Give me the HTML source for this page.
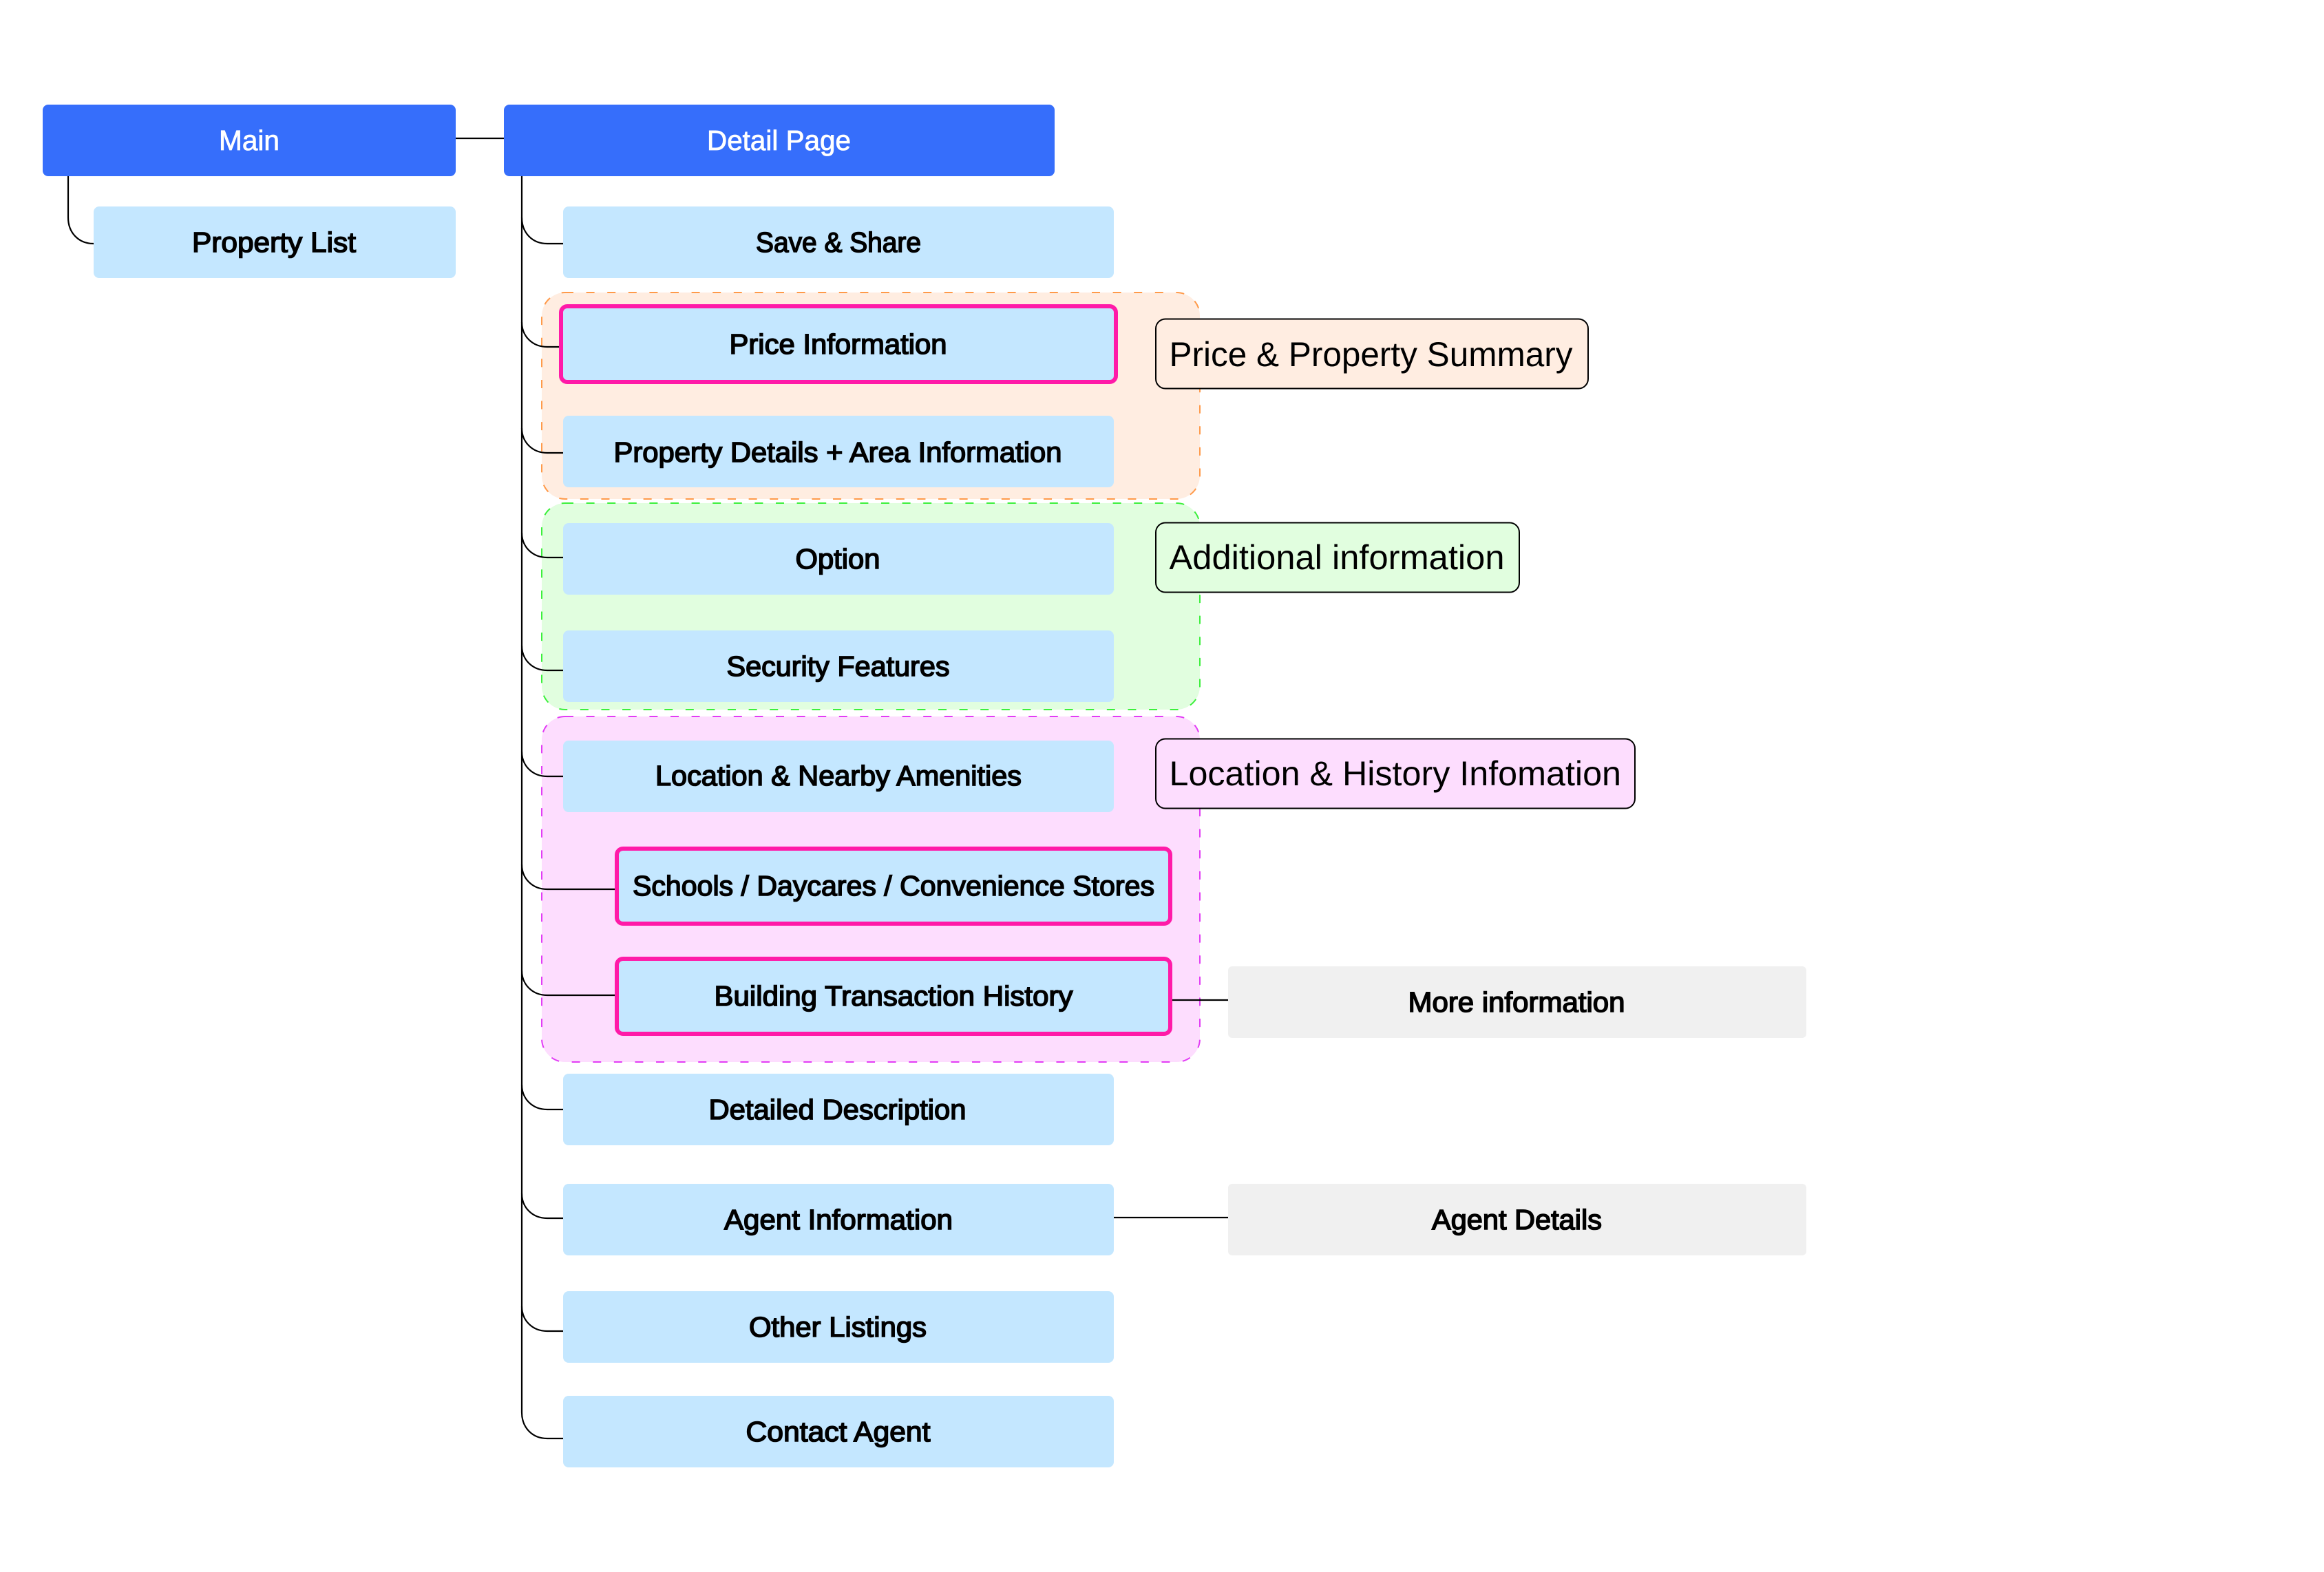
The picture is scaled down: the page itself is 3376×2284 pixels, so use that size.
<!DOCTYPE html>
<html lang="en">
<head>
<meta charset="utf-8">
<title>Detail Page Diagram</title>
<style>
html,body{margin:0;padding:0;background:#fff;width:3376px;height:2284px;overflow:hidden}
svg{display:block}
text{font-family:"Liberation Sans",sans-serif}
.n{font-size:41px;fill:#000;stroke:#000;stroke-width:1.6px}
.w{font-size:41px;fill:#fff;stroke:#fff;stroke-width:.8px}
.l{font-size:50px;fill:#000}
.c{fill:none;stroke:#000;stroke-width:2.2}
</style>
</head>
<body>
<svg width="3376" height="2284" viewBox="0 0 3376 2284" xmlns="http://www.w3.org/2000/svg">
<rect width="3376" height="2284" fill="#fff"/>

<!-- group regions -->
<rect x="787" y="425" width="956" height="300" rx="34" fill="#FFEDE1" stroke="#FF9A4A" stroke-width="2" stroke-dasharray="12 18.6"/>
<rect x="787" y="731" width="956" height="300" rx="34" fill="#E1FEDF" stroke="#3CF03C" stroke-width="2" stroke-dasharray="12 18.6"/>
<rect x="787" y="1041" width="956" height="502" rx="34" fill="#FDDDFE" stroke="#E23CF5" stroke-width="2" stroke-dasharray="12 18.6"/>

<!-- connectors -->
<path class="c" d="M662 201H732"/>
<path class="c" d="M99 256V316C99 338 114 354 136 354"/>
<path class="c" d="M758 256V2052C758 2074 773 2090 795 2090H818"/>
<path class="c" d="M758 316C758 338 773 354 795 354H818"/>
<path class="c" d="M758 468C758 488 773 504 795 504H813"/>
<path class="c" d="M758 622C758 642 773 658 795 658H818"/>
<path class="c" d="M758 774C758 794 773 810 795 810H818"/>
<path class="c" d="M758 938C758 958 773 974 795 974H818"/>
<path class="c" d="M758 1092C758 1112 773 1128 795 1128H818"/>
<path class="c" d="M758 1256C758 1276 773 1292 795 1292H893"/>
<path class="c" d="M758 1410C758 1430 773 1446 795 1446H893"/>
<path class="c" d="M758 1576C758 1596 773 1612 795 1612H818"/>
<path class="c" d="M758 1734C758 1754 773 1770 795 1770H818"/>
<path class="c" d="M758 1898C758 1918 773 1934 795 1934H818"/>
<path class="c" d="M1703 1453H1784"/>
<path class="c" d="M1618 1769H1784"/>

<!-- primary nodes -->
<rect x="62" y="152" width="600" height="104" rx="8" fill="#366EFB"/>
<text class="w" x="318" y="218" textLength="88" lengthAdjust="spacingAndGlyphs">Main</text>
<rect x="732" y="152" width="800" height="104" rx="8" fill="#366EFB"/>
<text class="w" x="1027" y="218" textLength="209" lengthAdjust="spacingAndGlyphs">Detail Page</text>

<!-- light blue nodes -->
<rect x="136" y="300" width="526" height="104" rx="8" fill="#C4E7FF"/>
<text class="n" x="279" y="366" textLength="238" lengthAdjust="spacingAndGlyphs">Property List</text>

<rect x="818" y="300" width="800" height="104" rx="8" fill="#C4E7FF"/>
<text class="n" x="1098" y="366" textLength="240" lengthAdjust="spacingAndGlyphs">Save &amp; Share</text>

<rect x="815" y="445" width="806" height="110" rx="9" fill="#C4E7FF" stroke="#FF1AA8" stroke-width="6"/>
<text class="n" x="1059.500" y="514" textLength="316" lengthAdjust="spacingAndGlyphs">Price Information</text>

<rect x="818" y="604" width="800" height="104" rx="8" fill="#C4E7FF"/>
<text class="n" x="891.500" y="671" textLength="651" lengthAdjust="spacingAndGlyphs">Property Details + Area Information</text>

<rect x="818" y="760" width="800" height="104" rx="8" fill="#C4E7FF"/>
<text class="n" x="1155.500" y="826" textLength="123" lengthAdjust="spacingAndGlyphs">Option</text>

<rect x="818" y="916" width="800" height="104" rx="8" fill="#C4E7FF"/>
<text class="n" x="1055.500" y="982" textLength="324" lengthAdjust="spacingAndGlyphs">Security Features</text>

<rect x="818" y="1076" width="800" height="104" rx="8" fill="#C4E7FF"/>
<text class="n" x="952" y="1141" textLength="532" lengthAdjust="spacingAndGlyphs">Location &amp; Nearby Amenities</text>

<rect x="896" y="1233" width="804" height="109" rx="9" fill="#C4E7FF" stroke="#FF1AA8" stroke-width="6"/>
<text class="n" x="919" y="1301" textLength="758" lengthAdjust="spacingAndGlyphs">Schools / Daycares / Convenience Stores</text>

<rect x="896" y="1393" width="804" height="109" rx="9" fill="#C4E7FF" stroke="#FF1AA8" stroke-width="6"/>
<text class="n" x="1037.500" y="1461" textLength="521" lengthAdjust="spacingAndGlyphs">Building Transaction History</text>

<rect x="818" y="1560" width="800" height="104" rx="8" fill="#C4E7FF"/>
<text class="n" x="1029.500" y="1626" textLength="374" lengthAdjust="spacingAndGlyphs">Detailed Description</text>

<rect x="818" y="1720" width="800" height="104" rx="8" fill="#C4E7FF"/>
<text class="n" x="1052" y="1786" textLength="332" lengthAdjust="spacingAndGlyphs">Agent Information</text>

<rect x="818" y="1876" width="800" height="104" rx="8" fill="#C4E7FF"/>
<text class="n" x="1088" y="1942" textLength="258" lengthAdjust="spacingAndGlyphs">Other Listings</text>

<rect x="818" y="2028" width="800" height="104" rx="8" fill="#C4E7FF"/>
<text class="n" x="1083.500" y="2094" textLength="268" lengthAdjust="spacingAndGlyphs">Contact Agent</text>

<!-- grey nodes -->
<rect x="1784" y="1404" width="840" height="104" rx="6" fill="#F0F0F0"/>
<text class="n" x="2045.500" y="1470" textLength="315" lengthAdjust="spacingAndGlyphs">More information</text>
<rect x="1784" y="1720" width="840" height="104" rx="6" fill="#F0F0F0"/>
<text class="n" x="2080" y="1786" textLength="247" lengthAdjust="spacingAndGlyphs">Agent Details</text>

<!-- annotation labels -->
<rect x="1679" y="463.500" width="628" height="101" rx="14" fill="#FFEDE1" stroke="#000" stroke-width="2"/>
<text class="l" x="1698.500" y="532" textLength="586" lengthAdjust="spacingAndGlyphs">Price &amp; Property Summary</text>
<rect x="1679" y="759.500" width="528" height="101" rx="14" fill="#E1FEDF" stroke="#000" stroke-width="2"/>
<text class="l" x="1698.500" y="827" textLength="487" lengthAdjust="spacingAndGlyphs">Additional information</text>
<rect x="1679" y="1073.500" width="696" height="101" rx="14" fill="#FDDDFE" stroke="#000" stroke-width="2"/>
<text class="l" x="1698.500" y="1141" textLength="656.500" lengthAdjust="spacingAndGlyphs">Location &amp; History Infomation</text>
</svg>
</body>
</html>
